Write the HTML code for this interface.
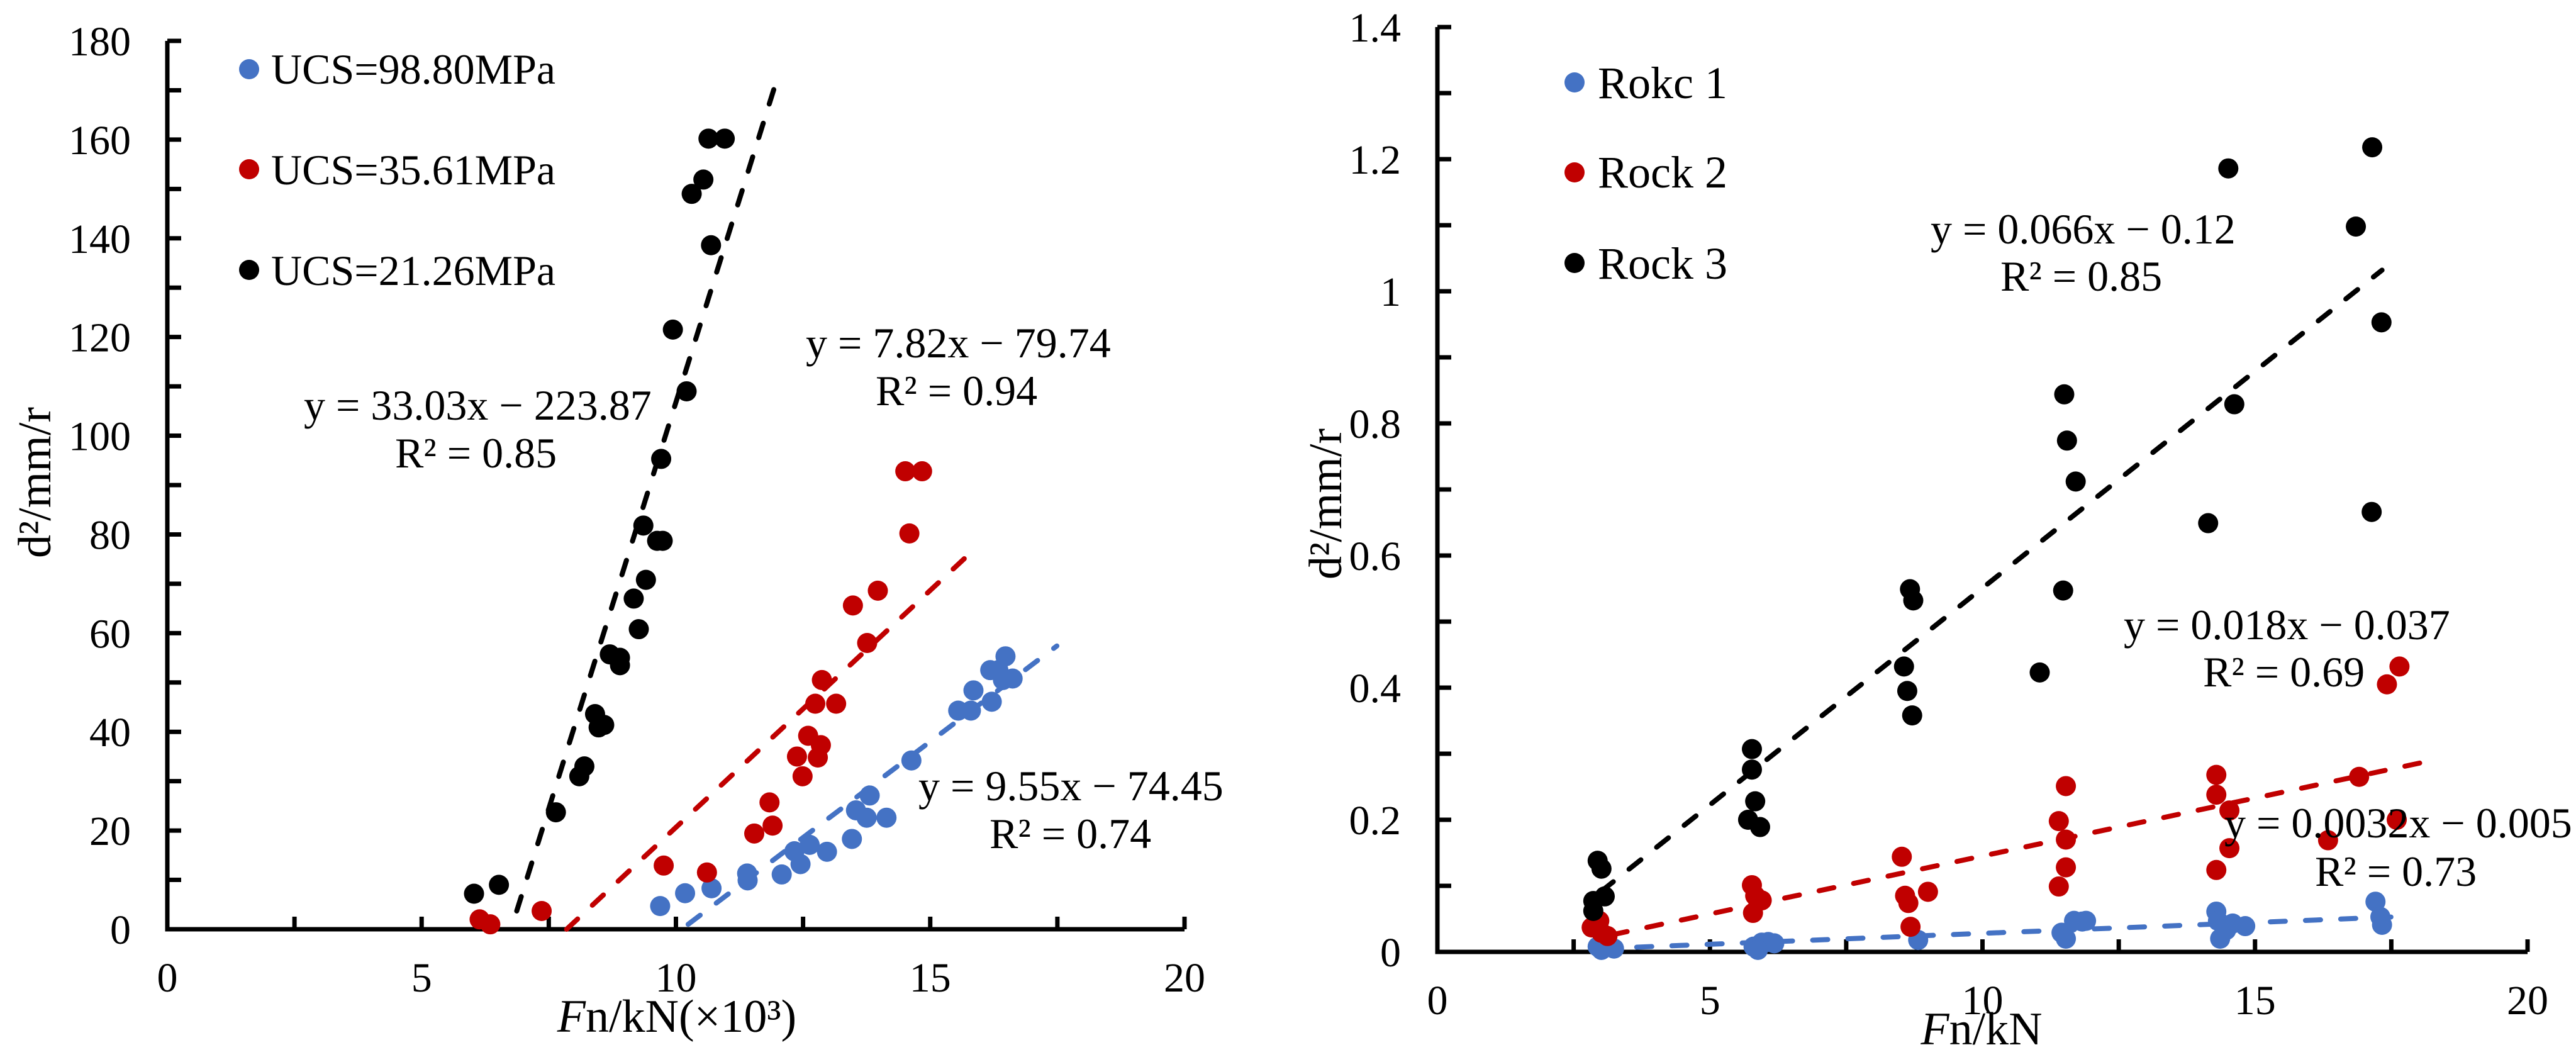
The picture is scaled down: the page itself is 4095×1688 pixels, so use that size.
<!DOCTYPE html>
<html><head><meta charset="utf-8"><style>
html,body{margin:0;padding:0;background:#fff;}
svg{display:block;font-family:"Liberation Serif","Times New Roman",serif;}
</style></head><body>
<svg id="chart" width="4095" height="1688" viewBox="0 0 4095 1688" xmlns="http://www.w3.org/2000/svg">
<rect width="4095" height="1688" fill="#fff"/>
<g id="left"></g>
<g id="right"></g>
<text transform="translate(80,767) rotate(-90)" text-anchor="middle" font-size="74">d²/mm/r</text>
<text x="1076" y="1640" text-anchor="middle" font-size="74"><tspan font-style="italic">F</tspan>n/kN(×10³)</text>
<text transform="translate(2132,801) rotate(-90)" text-anchor="middle" font-size="74">d²/mm/r</text>
<text x="3150" y="1660" text-anchor="middle" font-size="74"><tspan font-style="italic">F</tspan>n/kN</text>
<g font-size="68">
<circle cx="396" cy="110" r="16" fill="#4472C4"/>
<text x="431" y="133">UCS=98.80MPa</text>
<circle cx="396" cy="269" r="16" fill="#C00000"/>
<text x="431" y="293">UCS=35.61MPa</text>
<circle cx="396" cy="429" r="16" fill="#000"/>
<text x="431" y="453">UCS=21.26MPa</text>
</g>
<g font-size="72">
<circle cx="2503" cy="131" r="16" fill="#4472C4"/>
<text x="2540" y="156">Rokc 1</text>
<circle cx="2503" cy="274" r="16" fill="#C00000"/>
<text x="2540" y="298">Rock 2</text>
<circle cx="2503" cy="418" r="16" fill="#000"/>
<text x="2540" y="443">Rock 3</text>
</g>
<g font-size="68">
<text x="483" y="667">y = 33.03x − 223.87</text>
<text x="628" y="743">R² = 0.85</text>
<text x="1281" y="568">y = 7.82x − 79.74</text>
<text x="1392" y="644">R² = 0.94</text>
<text x="1460" y="1272">y = 9.55x − 74.45</text>
<text x="1573" y="1348">R² = 0.74</text>
<text x="3069" y="387">y = 0.066x − 0.12</text>
<text x="3180" y="462">R² = 0.85</text>
<text x="3376" y="1016">y = 0.018x − 0.037</text>
<text x="3502" y="1091">R² = 0.69</text>
<text x="3536" y="1331">y = 0.0032x − 0.005</text>
<text x="3680" y="1408">R² = 0.73</text>
</g>
</svg>
<script>
// ---- Left chart data ----
const leftXTicks = [0, 5, 10, 15, 20];
const leftYTicks = [0, 20, 40, 60, 80, 100, 120, 140, 160, 180];
const leftBlackX = [6.03,6.52,7.64,8.1,8.2,8.41,8.48,8.59,8.7,8.9,8.9,9.17,9.27,9.41,9.36,9.63,9.74,9.71,9.94,10.21,10.31,10.54,10.69,10.64,10.96];
const leftBlackY = [7.2,9,23.7,31,33,43.6,40.9,41.4,55.7,55,53.5,67,60.8,70.8,81.8,78.7,78.7,95.3,121.5,109,149,151.9,138.6,160.2,160.2];
const leftRedX = [6.14,6.35,7.36,9.76,10.61,11.54,11.84,11.9,12.38,12.49,12.6,12.74,12.79,12.85,12.87,13.15,13.48,13.76,13.97,14.59,14.51,14.84];
const leftRedY = [2,1,3.7,12.9,11.5,19.4,25.7,21,35,31,39.2,45.7,34.8,37.3,50.5,45.7,65.6,58,68.6,80.2,92.8,92.8];
const leftBlueX = [9.69,10.18,10.7,11.4,11.41,12.08,12.33,12.45,12.63,12.97,13.46,13.54,13.75,13.81,14.14,14.63,15.55,15.8,15.85,16.21,16.18,16.34,16.48,16.43,16.62];
const leftBlueY = [4.7,7.3,8.3,11.3,9.9,11.1,15.8,13.2,17.1,15.7,18.3,24.1,22.6,27.1,22.6,34.2,44.3,44.3,48.4,46.1,52.5,52.5,55.3,50.5,50.8];
const leftBlackTrend = [6.87, 3.7, 11.95, 171];
const leftRedTrend = [7.85, 0, 15.9, 77.3];
const leftBlueTrend = [10.24, 1, 17.49, 57.4];
// ---- Right chart data ----
const rightXTicks = [0, 5, 10, 15, 20];
const rightYTicks = [0, 0.2, 0.4, 0.6, 0.8, 1, 1.2, 1.4];
const rightYTickLabels = ["0","0.2","0.4","0.6","0.8","1","1.2","1.4"];
const rightBlackX = [2.86,2.86,2.94,3.01,3.07,5.77,5.77,5.83,5.7,5.92,8.67,8.73,8.56,8.62,8.71,11.05,11.5,11.55,11.71,11.48,14.51,14.62,14.14,16.85,17.15,17.32,17.14];
const rightBlackY = [0.077,0.062,0.138,0.126,0.084,0.307,0.276,0.228,0.2,0.189,0.549,0.532,0.432,0.395,0.358,0.423,0.844,0.774,0.712,0.547,1.186,0.829,0.649,1.098,1.218,0.953,0.666];
const rightRedX = [2.83,2.97,3.01,3.12,5.77,5.83,5.95,5.79,8.52,8.58,8.64,8.68,9.0,11.4,11.53,11.53,11.53,11.4,14.29,14.29,14.53,14.53,14.29,16.34,16.91,17.6,17.42,17.65];
const rightRedY = [0.037,0.047,0.029,0.024,0.101,0.085,0.078,0.059,0.144,0.085,0.074,0.038,0.091,0.198,0.251,0.17,0.128,0.099,0.268,0.238,0.214,0.157,0.124,0.169,0.265,0.2,0.405,0.432];
const rightBlueX = [2.94,3.01,3.24,5.8,5.95,6.07,6.18,5.88,8.82,11.53,11.68,11.83,11.9,11.45,14.29,14.32,14.36,14.47,14.59,14.82,17.21,17.3,17.33];
const rightBlueY = [0.008,0.003,0.005,0.008,0.014,0.015,0.013,0.003,0.018,0.02,0.047,0.046,0.047,0.029,0.061,0.047,0.02,0.033,0.043,0.039,0.076,0.053,0.041];
const rightBlackTrend = [3.01, 0.092, 17.33, 1.032];
const rightRedTrend = [3.21, 0.026, 18.2, 0.289];
const rightBlueTrend = [3.01, 0.005, 17.86, 0.054];

const NS = "http://www.w3.org/2000/svg";
function mk(parent, tag, attrs) {
  const e = document.createElementNS(NS, tag);
  for (const k in attrs) e.setAttribute(k, attrs[k]);
  parent.appendChild(e);
  return e;
}
function drawChart(g, cfg) {
  const sx = v => cfg.x0 + (v - cfg.xmin) / (cfg.xmax - cfg.xmin) * (cfg.x1 - cfg.x0);
  const sy = v => cfg.y0 - (v - cfg.ymin) / (cfg.ymax - cfg.ymin) * (cfg.y0 - cfg.y1);
  // axes
  const ax = mk(g, "path", {d: `M${cfg.x0},${cfg.y1} L${cfg.x0},${cfg.y0} L${cfg.x1},${cfg.y0}`, fill: "none", stroke: "#000", "stroke-width": 7});
  
  
  // y ticks (major + minor)
  const ny = cfg.yTicks.length - 1;
  for (let i = 0; i <= ny * 2; i++) {
    const v = cfg.ymin + (cfg.ymax - cfg.ymin) * i / (ny * 2);
    const t = mk(g, "line", {x1: cfg.x0, x2: cfg.x0 + 22, y1: sy(v), y2: sy(v), stroke: "#000", "stroke-width": 7});
    
    
  }
  cfg.yTicks.forEach((v, i) => {
    const t = mk(g, "text", {x: cfg.x0 - 58, y: sy(v) + 23, "text-anchor": "end", "font-size": 66});
    t.textContent = cfg.yLabels[i];
    
    
  });
  const nx = cfg.xTicks.length - 1;
  for (let i = 0; i <= nx * 2; i++) {
    const v = cfg.xmin + (cfg.xmax - cfg.xmin) * i / (nx * 2);
    const t = mk(g, "line", {x1: sx(v), x2: sx(v), y1: cfg.y0, y2: cfg.y0 - 20, stroke: "#000", "stroke-width": 7});
    
    
  }
  cfg.xTicks.forEach(v => {
    const t = mk(g, "text", {x: sx(v), y: cfg.y0 + 99, "text-anchor": "middle", "font-size": 66});
    t.textContent = String(v);
    
    
  });
  cfg.series.forEach(s => {
    const tr = s.trend;
    const l = mk(g, "line", {x1: sx(tr[0]), y1: sy(tr[1]), x2: sx(tr[2]), y2: sy(tr[3]), stroke: s.color, "stroke-width": 8, "stroke-dasharray": "24 32", "stroke-linecap": "round"});
    
    
  });
  cfg.series.forEach(s => {
    s.xs.forEach((xv, i) => {
      const c = mk(g, "circle", {cx: sx(xv), cy: sy(s.ys[i]), r: 16, fill: s.color});
      
      
    });
  });
}
drawChart(document.getElementById("left"), {
  id: "left", x0: 266, x1: 1883, y0: 1477, y1: 65, xmin: 0, xmax: 20, ymin: 0, ymax: 180,
  xTicks: leftXTicks, yTicks: leftYTicks, yLabels: leftYTicks.map(String),
  series: [
    {name: "ucs-98", color: "#4472C4", xs: leftBlueX, ys: leftBlueY, trend: leftBlueTrend},
    {name: "ucs-35", color: "#C00000", xs: leftRedX, ys: leftRedY, trend: leftRedTrend},
    {name: "ucs-21", color: "#000000", xs: leftBlackX, ys: leftBlackY, trend: leftBlackTrend}
  ]
});
drawChart(document.getElementById("right"), {
  id: "right", x0: 2285, x1: 4018, y0: 1513, y1: 43, xmin: 0, xmax: 20, ymin: 0, ymax: 1.4,
  xTicks: rightXTicks, yTicks: rightYTicks, yLabels: rightYTickLabels,
  series: [
    {name: "rock-1", color: "#4472C4", xs: rightBlueX, ys: rightBlueY, trend: rightBlueTrend},
    {name: "rock-2", color: "#C00000", xs: rightRedX, ys: rightRedY, trend: rightRedTrend},
    {name: "rock-3", color: "#000000", xs: rightBlackX, ys: rightBlackY, trend: rightBlackTrend}
  ]
});
</script>
</body></html>
